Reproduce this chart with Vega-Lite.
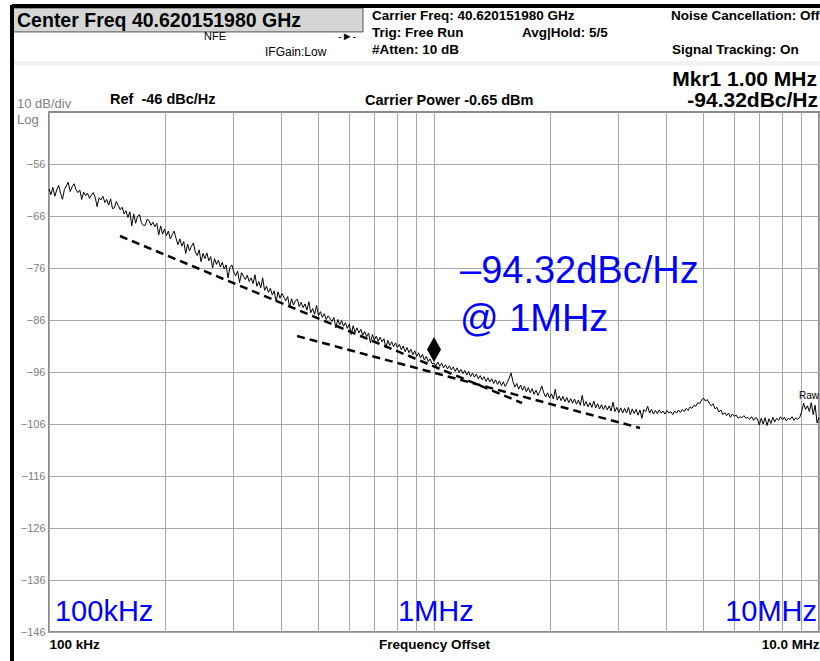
{
  "$schema": "https://vega.github.io/schema/vega-lite/v6.json",
  "width": 770,
  "height": 520,
  "autosize": {"type": "none"},
  "padding": {"left": 49, "top": 112, "right": 1, "bottom": 29},
  "background": "white",
  "config": {
    "view": {"stroke": "#8c8c8c", "strokeWidth": 2},
    "font": "Liberation Sans",
    "text": {"font": "Liberation Sans"}
  },
  "encoding": {
    "x": {
      "field": "f", "type": "quantitative",
      "scale": {"type": "log", "domain": [100, 10000], "nice": false},
      "axis": {
        "values": [100, 200, 300, 400, 500, 600, 700, 800, 900, 1000, 2000, 3000, 4000, 5000, 6000, 7000, 8000, 9000, 10000],
        "grid": true, "gridColor": "#a8a8a8", "gridWidth": 1,
        "domain": false, "ticks": false,
        "labelExpr": "datum.value == 100 ? '100 kHz' : (datum.value == 10000 ? '10.0 MHz' : '')",
        "labelFlush": true, "labelOverlap": false, "labelBound": false,
        "labelFont": "Liberation Sans", "labelFontSize": 13.5, "labelFontWeight": "bold", "labelColor": "#000000",
        "labelBaseline": "alphabetic", "labelPadding": 16,
        "title": "Frequency Offset", "titleFont": "Liberation Sans", "titleFontSize": 13.5, "titleFontWeight": "bold",
        "titleColor": "#000000", "titleBaseline": "alphabetic", "titleY": 16, "titleAnchor": "middle"
      }
    },
    "y": {
      "field": "db", "type": "quantitative",
      "scale": {"domain": [-146, -46], "nice": false, "zero": false},
      "axis": {
        "values": [-56, -66, -76, -86, -96, -106, -116, -126, -136, -146],
        "grid": true, "gridColor": "#a8a8a8", "gridWidth": 1,
        "domain": false, "ticks": false,
        "labelFont": "Liberation Sans", "labelFontSize": 11, "labelColor": "#808080", "labelPadding": 4,
        "title": null
      }
    }
  },
  "layer": [
    {
      "data": {"values": [
        {"f": 80.6, "f2": 654.0, "db": -26, "db2": -30.6}
      ]},
      "mark": {"type": "rect", "fill": "#d6d6d6", "stroke": "#555555", "strokeWidth": 1},
      "encoding": {"x2": {"field": "f2"}, "y2": {"field": "db2"}}
    },
    {
      "data": {"values": [
        {"f": 80.6, "f2": 10060, "db": -36.2, "db2": -37.1}
      ]},
      "mark": {"type": "rect", "fill": "#f2f2f2"},
      "encoding": {"x2": {"field": "f2"}, "y2": {"field": "db2"}}
    },
    {
      "data": {"values": [
        {"f": 80.15, "f2": 80.15, "db": -25.4, "db2": -151.6},
        {"f": 80.15, "f2": 10060, "db": -25.62, "db2": -25.62}
      ]},
      "mark": {"type": "rule", "color": "#000000", "strokeWidth": 4},
      "encoding": {"x2": {"field": "f2"}, "y2": {"field": "db2"}}
    },
    {
      "data": {"values": [
        {"f": 100, "db": -60.8}, {"f": 101.16, "db": -61.9}, {"f": 102.33, "db": -60.5}, {"f": 103.52, "db": -62.2},
        {"f": 104.71, "db": -61.0}, {"f": 105.92, "db": -60.1}, {"f": 107.15, "db": -61.6}, {"f": 108.39, "db": -62.8},
        {"f": 109.65, "db": -60.9}, {"f": 110.92, "db": -60.2}, {"f": 112.2, "db": -59.5}, {"f": 113.5, "db": -61.3},
        {"f": 114.82, "db": -60.4}, {"f": 116.15, "db": -59.8}, {"f": 117.49, "db": -60.9}, {"f": 118.85, "db": -61.5},
        {"f": 120.23, "db": -61.0}, {"f": 121.62, "db": -62.8}, {"f": 123.03, "db": -61.4}, {"f": 124.46, "db": -62.1},
        {"f": 125.89, "db": -61.6}, {"f": 127.35, "db": -62.6}, {"f": 128.83, "db": -62.0}, {"f": 130.32, "db": -61.5},
        {"f": 131.83, "db": -62.4}, {"f": 133.36, "db": -64.2}, {"f": 134.9, "db": -62.5}, {"f": 136.47, "db": -62.9},
        {"f": 138.04, "db": -62.2}, {"f": 139.64, "db": -63.4}, {"f": 141.25, "db": -62.8}, {"f": 142.89, "db": -63.9},
        {"f": 144.54, "db": -62.7}, {"f": 146.22, "db": -64.6}, {"f": 147.91, "db": -64.4}, {"f": 149.62, "db": -63.2},
        {"f": 151.36, "db": -64.0}, {"f": 153.11, "db": -64.8}, {"f": 154.88, "db": -64.3}, {"f": 156.68, "db": -65.6},
        {"f": 158.49, "db": -65.0}, {"f": 160.33, "db": -66.3}, {"f": 162.18, "db": -65.2}, {"f": 164.06, "db": -67.9},
        {"f": 165.96, "db": -65.6}, {"f": 167.88, "db": -67.4}, {"f": 169.82, "db": -66.1}, {"f": 171.79, "db": -65.7},
        {"f": 173.78, "db": -67.3}, {"f": 175.79, "db": -67.8}, {"f": 177.83, "db": -67.8}, {"f": 179.89, "db": -66.6},
        {"f": 181.97, "db": -66.9}, {"f": 184.08, "db": -67.8}, {"f": 186.21, "db": -67.2}, {"f": 188.37, "db": -68.1},
        {"f": 190.55, "db": -67.4}, {"f": 192.76, "db": -69.6}, {"f": 194.98, "db": -67.9}, {"f": 197.24, "db": -69.5},
        {"f": 199.53, "db": -68.5}, {"f": 201.84, "db": -69.8}, {"f": 204.17, "db": -68.9}, {"f": 206.54, "db": -70.4},
        {"f": 208.93, "db": -69.6}, {"f": 211.35, "db": -68.9}, {"f": 213.8, "db": -70.3}, {"f": 216.28, "db": -71.5},
        {"f": 218.78, "db": -70.4}, {"f": 221.31, "db": -71.8}, {"f": 223.87, "db": -70.9}, {"f": 226.47, "db": -73.2},
        {"f": 229.09, "db": -71.4}, {"f": 231.74, "db": -72.7}, {"f": 234.42, "db": -71.8}, {"f": 237.14, "db": -71.2},
        {"f": 239.88, "db": -72.9}, {"f": 242.66, "db": -73.6}, {"f": 245.47, "db": -72.5}, {"f": 248.31, "db": -74.8},
        {"f": 251.19, "db": -73.2}, {"f": 254.1, "db": -74.2}, {"f": 257.04, "db": -73.1}, {"f": 260.02, "db": -74.6},
        {"f": 263.03, "db": -73.8}, {"f": 266.07, "db": -76.0}, {"f": 269.15, "db": -74.2}, {"f": 272.27, "db": -75.3},
        {"f": 275.42, "db": -74.5}, {"f": 278.61, "db": -75.8}, {"f": 281.84, "db": -74.9}, {"f": 285.1, "db": -76.2},
        {"f": 288.4, "db": -75.4}, {"f": 291.74, "db": -77.9}, {"f": 295.12, "db": -75.9}, {"f": 298.54, "db": -75.4},
        {"f": 302.0, "db": -76.8}, {"f": 305.5, "db": -77.5}, {"f": 309.03, "db": -76.6}, {"f": 312.61, "db": -78.8},
        {"f": 316.23, "db": -76.9}, {"f": 319.89, "db": -77.6}, {"f": 323.59, "db": -78.2}, {"f": 327.34, "db": -77.4},
        {"f": 331.13, "db": -78.6}, {"f": 334.97, "db": -77.9}, {"f": 338.84, "db": -79.0}, {"f": 342.77, "db": -77.3},
        {"f": 346.74, "db": -79.5}, {"f": 350.75, "db": -78.6}, {"f": 354.81, "db": -79.8}, {"f": 358.92, "db": -77.9},
        {"f": 363.08, "db": -80.3}, {"f": 367.28, "db": -79.5}, {"f": 371.54, "db": -80.7}, {"f": 375.84, "db": -79.9},
        {"f": 380.19, "db": -81.2}, {"f": 384.59, "db": -80.4}, {"f": 389.05, "db": -82.5}, {"f": 393.55, "db": -80.6},
        {"f": 398.11, "db": -81.8}, {"f": 402.72, "db": -80.9}, {"f": 407.38, "db": -81.6}, {"f": 412.1, "db": -82.3},
        {"f": 416.87, "db": -81.5}, {"f": 421.7, "db": -83.6}, {"f": 426.58, "db": -81.9}, {"f": 431.52, "db": -83.1},
        {"f": 436.52, "db": -82.3}, {"f": 441.57, "db": -82.0}, {"f": 446.68, "db": -83.4}, {"f": 451.86, "db": -82.6},
        {"f": 457.09, "db": -83.6}, {"f": 462.38, "db": -82.9}, {"f": 467.74, "db": -84.1}, {"f": 473.15, "db": -82.5},
        {"f": 478.63, "db": -84.6}, {"f": 484.17, "db": -83.8}, {"f": 489.78, "db": -84.9}, {"f": 495.45, "db": -83.2},
        {"f": 501.19, "db": -85.2}, {"f": 507.0, "db": -84.4}, {"f": 512.86, "db": -85.5}, {"f": 518.8, "db": -84.8},
        {"f": 524.81, "db": -85.9}, {"f": 530.89, "db": -85.2}, {"f": 537.03, "db": -85.7}, {"f": 543.25, "db": -86.3},
        {"f": 549.54, "db": -85.5}, {"f": 555.9, "db": -87.5}, {"f": 562.34, "db": -85.9}, {"f": 568.85, "db": -86.9},
        {"f": 575.44, "db": -86.1}, {"f": 582.1, "db": -87.2}, {"f": 588.84, "db": -86.5}, {"f": 595.66, "db": -87.6},
        {"f": 602.56, "db": -86.8}, {"f": 609.54, "db": -88.8}, {"f": 616.6, "db": -87.1}, {"f": 623.74, "db": -88.3},
        {"f": 630.96, "db": -87.5}, {"f": 638.27, "db": -88.5}, {"f": 645.65, "db": -87.8}, {"f": 653.13, "db": -88.9},
        {"f": 660.69, "db": -88.2}, {"f": 668.34, "db": -89.2}, {"f": 676.08, "db": -88.5}, {"f": 683.91, "db": -90.4},
        {"f": 691.83, "db": -88.8}, {"f": 699.84, "db": -89.8}, {"f": 707.95, "db": -89.1}, {"f": 716.15, "db": -90.1},
        {"f": 724.44, "db": -89.3}, {"f": 732.83, "db": -90.2}, {"f": 741.31, "db": -89.6}, {"f": 749.9, "db": -91.4},
        {"f": 758.58, "db": -89.9}, {"f": 767.37, "db": -90.9}, {"f": 776.25, "db": -90.2}, {"f": 785.24, "db": -91.1},
        {"f": 794.33, "db": -90.4}, {"f": 803.53, "db": -91.3}, {"f": 812.83, "db": -90.7}, {"f": 822.25, "db": -91.7},
        {"f": 831.76, "db": -91.0}, {"f": 841.4, "db": -92.1}, {"f": 851.14, "db": -91.3}, {"f": 860.99, "db": -92.3},
        {"f": 870.96, "db": -91.6}, {"f": 881.05, "db": -92.7}, {"f": 891.25, "db": -91.9}, {"f": 901.57, "db": -93.0},
        {"f": 912.01, "db": -92.3}, {"f": 922.57, "db": -93.3}, {"f": 933.25, "db": -92.6}, {"f": 944.06, "db": -93.7},
        {"f": 954.99, "db": -93.0}, {"f": 966.05, "db": -94.0}, {"f": 977.24, "db": -93.5}, {"f": 988.55, "db": -94.4},
        {"f": 1000, "db": -94.32}, {"f": 1011.6, "db": -94.8}, {"f": 1023.3, "db": -94.1}, {"f": 1035.2, "db": -94.9},
        {"f": 1047.1, "db": -94.3}, {"f": 1059.2, "db": -95.2}, {"f": 1071.5, "db": -94.6}, {"f": 1083.9, "db": -95.4},
        {"f": 1096.5, "db": -94.8}, {"f": 1109.2, "db": -95.6}, {"f": 1122, "db": -95.0}, {"f": 1135, "db": -95.9},
        {"f": 1148.2, "db": -95.2}, {"f": 1161.5, "db": -96.1}, {"f": 1174.9, "db": -95.5}, {"f": 1188.5, "db": -96.3},
        {"f": 1202.3, "db": -95.7}, {"f": 1216.2, "db": -96.6}, {"f": 1230.3, "db": -95.9}, {"f": 1244.5, "db": -96.9},
        {"f": 1258.9, "db": -96.2}, {"f": 1273.5, "db": -97.0}, {"f": 1288.2, "db": -96.4}, {"f": 1303.2, "db": -97.3},
        {"f": 1318.3, "db": -96.7}, {"f": 1333.5, "db": -97.5}, {"f": 1349, "db": -96.9}, {"f": 1364.6, "db": -97.8},
        {"f": 1380.4, "db": -97.1}, {"f": 1396.4, "db": -97.9}, {"f": 1412.5, "db": -97.3}, {"f": 1428.9, "db": -98.2},
        {"f": 1445.4, "db": -97.5}, {"f": 1462.2, "db": -98.4}, {"f": 1479.1, "db": -97.7}, {"f": 1496.2, "db": -98.6},
        {"f": 1513.6, "db": -97.9}, {"f": 1531.1, "db": -98.8}, {"f": 1548.8, "db": -98.1}, {"f": 1566.8, "db": -97.2},
        {"f": 1584.9, "db": -96.2}, {"f": 1603.2, "db": -97.8}, {"f": 1621.8, "db": -98.9}, {"f": 1640.6, "db": -98.2},
        {"f": 1659.6, "db": -99.3}, {"f": 1678.8, "db": -98.5}, {"f": 1698.2, "db": -99.5}, {"f": 1717.9, "db": -98.7},
        {"f": 1737.8, "db": -99.8}, {"f": 1758, "db": -99.0}, {"f": 1778.3, "db": -100.0}, {"f": 1798.9, "db": -99.2},
        {"f": 1819.7, "db": -100.3}, {"f": 1840.8, "db": -99.5}, {"f": 1862.1, "db": -100.5}, {"f": 1883.7, "db": -99.7},
        {"f": 1905.5, "db": -98.7}, {"f": 1927.5, "db": -100.0}, {"f": 1949.8, "db": -100.8}, {"f": 1972.4, "db": -100.0},
        {"f": 1995.3, "db": -101.0}, {"f": 2018.4, "db": -100.2}, {"f": 2041.7, "db": -101.2}, {"f": 2065.4, "db": -99.3},
        {"f": 2089.3, "db": -101.4}, {"f": 2113.5, "db": -100.6}, {"f": 2138, "db": -101.5}, {"f": 2162.7, "db": -100.7},
        {"f": 2187.8, "db": -101.7}, {"f": 2213.1, "db": -100.9}, {"f": 2238.7, "db": -101.9}, {"f": 2264.6, "db": -101.1},
        {"f": 2290.9, "db": -102.0}, {"f": 2317.4, "db": -101.2}, {"f": 2344.2, "db": -102.2}, {"f": 2371.4, "db": -101.4},
        {"f": 2398.8, "db": -102.4}, {"f": 2426.6, "db": -100.5}, {"f": 2454.7, "db": -102.5}, {"f": 2483.1, "db": -101.7},
        {"f": 2511.9, "db": -102.7}, {"f": 2541, "db": -101.9}, {"f": 2570.4, "db": -102.8}, {"f": 2600.2, "db": -101.6},
        {"f": 2630.3, "db": -102.9}, {"f": 2660.7, "db": -102.1}, {"f": 2691.5, "db": -103.1}, {"f": 2722.7, "db": -102.3},
        {"f": 2754.2, "db": -103.2}, {"f": 2786.1, "db": -102.4}, {"f": 2818.4, "db": -103.3}, {"f": 2851, "db": -102.5},
        {"f": 2884, "db": -103.5}, {"f": 2917.4, "db": -101.8}, {"f": 2951.2, "db": -103.6}, {"f": 2985.4, "db": -102.8},
        {"f": 3020, "db": -103.8}, {"f": 3055, "db": -102.9}, {"f": 3090.3, "db": -103.9}, {"f": 3126.1, "db": -103.0},
        {"f": 3162.3, "db": -103.9}, {"f": 3198.9, "db": -102.8}, {"f": 3235.9, "db": -104.2}, {"f": 3273.4, "db": -103.1},
        {"f": 3311.3, "db": -104.0}, {"f": 3349.7, "db": -103.2}, {"f": 3388.4, "db": -104.3}, {"f": 3427.7, "db": -103.3},
        {"f": 3467.4, "db": -104.9}, {"f": 3507.5, "db": -103.2}, {"f": 3548.1, "db": -103.6}, {"f": 3589.2, "db": -102.6},
        {"f": 3630.8, "db": -103.9}, {"f": 3672.8, "db": -103.2}, {"f": 3715.4, "db": -104.1}, {"f": 3758.4, "db": -103.4},
        {"f": 3801.9, "db": -104.0}, {"f": 3845.9, "db": -103.3}, {"f": 3890.5, "db": -103.9}, {"f": 3935.5, "db": -103.5},
        {"f": 3981.1, "db": -104.1}, {"f": 4027.2, "db": -103.4}, {"f": 4073.8, "db": -103.9}, {"f": 4121, "db": -103.6},
        {"f": 4168.7, "db": -104.2}, {"f": 4217, "db": -103.5}, {"f": 4265.8, "db": -103.9}, {"f": 4315.2, "db": -103.3},
        {"f": 4365.2, "db": -103.8}, {"f": 4415.7, "db": -103.2}, {"f": 4466.8, "db": -103.6}, {"f": 4518.6, "db": -103.0},
        {"f": 4570.9, "db": -103.4}, {"f": 4623.8, "db": -102.7}, {"f": 4677.4, "db": -103.0}, {"f": 4731.5, "db": -102.4},
        {"f": 4786.3, "db": -102.6}, {"f": 4841.7, "db": -101.9}, {"f": 4897.8, "db": -102.1}, {"f": 4954.5, "db": -101.4},
        {"f": 5011.9, "db": -101.0}, {"f": 5069.9, "db": -101.6}, {"f": 5128.6, "db": -101.3}, {"f": 5188.1, "db": -102.0},
        {"f": 5248.1, "db": -102.5}, {"f": 5308.9, "db": -102.1}, {"f": 5370.3, "db": -103.1}, {"f": 5432.5, "db": -102.8},
        {"f": 5495.4, "db": -103.7}, {"f": 5559.1, "db": -103.3}, {"f": 5623.4, "db": -104.2}, {"f": 5688.5, "db": -103.8},
        {"f": 5754.4, "db": -104.4}, {"f": 5821, "db": -103.9}, {"f": 5888.4, "db": -104.7}, {"f": 5956.6, "db": -104.1},
        {"f": 6025.6, "db": -104.5}, {"f": 6095.4, "db": -104.3}, {"f": 6166, "db": -104.9}, {"f": 6237.3, "db": -104.6},
        {"f": 6309.6, "db": -104.8}, {"f": 6382.6, "db": -104.4}, {"f": 6456.5, "db": -104.9}, {"f": 6531.3, "db": -104.7},
        {"f": 6606.9, "db": -105.1}, {"f": 6683.4, "db": -104.6}, {"f": 6760.8, "db": -105.3}, {"f": 6839.1, "db": -104.8},
        {"f": 6918.3, "db": -105.0}, {"f": 6998.4, "db": -106.2}, {"f": 7079.5, "db": -104.9}, {"f": 7161.4, "db": -106.0},
        {"f": 7244.4, "db": -104.8}, {"f": 7328.3, "db": -106.3}, {"f": 7413.1, "db": -105.0}, {"f": 7499, "db": -105.9},
        {"f": 7585.8, "db": -104.7}, {"f": 7673.6, "db": -105.6}, {"f": 7762.5, "db": -104.9}, {"f": 7852.4, "db": -105.3},
        {"f": 7943.3, "db": -104.6}, {"f": 8035.3, "db": -105.2}, {"f": 8128.3, "db": -104.7}, {"f": 8222.4, "db": -105.4},
        {"f": 8317.6, "db": -104.9}, {"f": 8413.9, "db": -105.1}, {"f": 8511.4, "db": -104.6}, {"f": 8609.9, "db": -105.3},
        {"f": 8709.6, "db": -104.8}, {"f": 8810.5, "db": -105.1}, {"f": 8912.5, "db": -104.7}, {"f": 9015.7, "db": -103.6},
        {"f": 9120.1, "db": -102.0}, {"f": 9225.7, "db": -103.2}, {"f": 9332.5, "db": -102.5}, {"f": 9440.6, "db": -103.6},
        {"f": 9549.9, "db": -101.9}, {"f": 9660.5, "db": -104.2}, {"f": 9772.4, "db": -102.4}, {"f": 9885.5, "db": -105.8},
        {"f": 10000, "db": -104.8}
      ]},
      "mark": {"type": "line", "color": "#000000", "strokeWidth": 1}
    },
    {
      "data": {"values": [
        {"seg": "a", "f": 152.9, "db": -69.85}, {"seg": "a", "f": 1692.6, "db": -101.96},
        {"seg": "b", "f": 440.8, "db": -89.08}, {"seg": "b", "f": 3428, "db": -106.77}
      ]},
      "mark": {"type": "line", "color": "#000000", "strokeWidth": 2.5, "strokeDash": [8, 5]},
      "encoding": {"detail": {"field": "seg"}}
    },
    {
      "data": {"values": [{"f": 1000, "db": -91.67}]},
      "mark": {"type": "point", "shape": "M0,-1L0.56,0L0,1L-0.56,0Z", "size": 625, "filled": true, "color": "#000000", "opacity": 1}
    },
    {
      "data": {"values": [{"f": 82.6, "db": -29.65, "t": "Center Freq 40.620151980 GHz"}]},
      "mark": {"type": "text", "align": "left", "baseline": "alphabetic", "fontSize": 19.5, "fontWeight": "bold", "color": "#000000"},
      "encoding": {"text": {"field": "t"}}
    },
    {
      "data": {"values": [
        {"f": 690.2, "db": -28.31, "t": "Carrier Freq: 40.620151980 GHz"},
        {"f": 690.2, "db": -31.58, "t": "Trig: Free Run"},
        {"f": 690.2, "db": -34.85, "t": "#Atten: 10 dB"},
        {"f": 1692.6, "db": -31.58, "t": "Avg|Hold: 5/5"},
        {"f": 4126.5, "db": -28.31, "t": "Noise Cancellation: Off"},
        {"f": 4151.3, "db": -34.85, "t": "Signal Tracking: On"}
      ]},
      "mark": {"type": "text", "align": "left", "baseline": "alphabetic", "fontSize": 13.5, "fontWeight": "bold", "color": "#000000"},
      "encoding": {"text": {"field": "t"}}
    },
    {
      "data": {"values": [
        {"f": 252.7, "db": -32.15, "t": "NFE"},
        {"f": 563.3, "db": -32.15, "t": "-►-"}
      ]},
      "mark": {"type": "text", "align": "left", "baseline": "alphabetic", "fontSize": 11, "color": "#000000"},
      "encoding": {"text": {"field": "t"}}
    },
    {
      "data": {"values": [
        {"f": 363.9, "db": -35.23, "t": "IFGain:Low"}
      ]},
      "mark": {"type": "text", "align": "left", "baseline": "alphabetic", "fontSize": 12, "color": "#000000"},
      "encoding": {"text": {"field": "t"}}
    },
    {
      "data": {"values": [
        {"f": 9881, "db": -40.95, "t": "Mkr1 1.00 MHz"},
        {"f": 9940, "db": -45.04, "t": "-94.32dBc/Hz"}
      ]},
      "mark": {"type": "text", "align": "right", "baseline": "alphabetic", "fontSize": 21, "fontWeight": "bold", "color": "#000000"},
      "encoding": {"text": {"field": "t"}}
    },
    {
      "data": {"values": [
        {"f": 144.0, "db": -44.46, "t": "Ref\u00a0 -46 dBc/Hz"},
        {"f": 662.0, "db": -44.65, "t": "Carrier Power -0.65 dBm"}
      ]},
      "mark": {"type": "text", "align": "left", "baseline": "alphabetic", "fontSize": 14.5, "fontWeight": "bold", "color": "#000000"},
      "encoding": {"text": {"field": "t"}}
    },
    {
      "data": {"values": [
        {"f": 82.6, "db": -45.23, "t": "10 dB/div"},
        {"f": 82.6, "db": -48.31, "t": "Log"}
      ]},
      "mark": {"type": "text", "align": "left", "baseline": "alphabetic", "fontSize": 13, "color": "#808080"},
      "encoding": {"text": {"field": "t"}}
    },
    {
      "data": {"values": [
        {"f": 103.65, "db": -143.88, "t": "100kHz"},
        {"f": 806.3, "db": -143.88, "t": "1MHz"}
      ]},
      "mark": {"type": "text", "align": "left", "baseline": "alphabetic", "fontSize": 29, "color": "#0000ff"},
      "encoding": {"text": {"field": "t"}}
    },
    {
      "data": {"values": [
        {"f": 9881, "db": -143.88, "t": "10MHz"}
      ]},
      "mark": {"type": "text", "align": "right", "baseline": "alphabetic", "fontSize": 29, "color": "#0000ff"},
      "encoding": {"text": {"field": "t"}}
    },
    {
      "data": {"values": [
        {"f": 1168.3, "db": -78.88, "t": "–94.32dBc/Hz"},
        {"f": 1168.3, "db": -88.12, "t": "@ 1MHz"}
      ]},
      "mark": {"type": "text", "align": "left", "baseline": "alphabetic", "fontSize": 38, "color": "#0000ff"},
      "encoding": {"text": {"field": "t"}}
    },
    {
      "data": {"values": [{"f": 8874, "db": -101.19, "t": "Raw"}]},
      "mark": {"type": "text", "align": "left", "baseline": "alphabetic", "fontSize": 10, "color": "#000000"},
      "encoding": {"text": {"field": "t"}}
    }
  ]
}
